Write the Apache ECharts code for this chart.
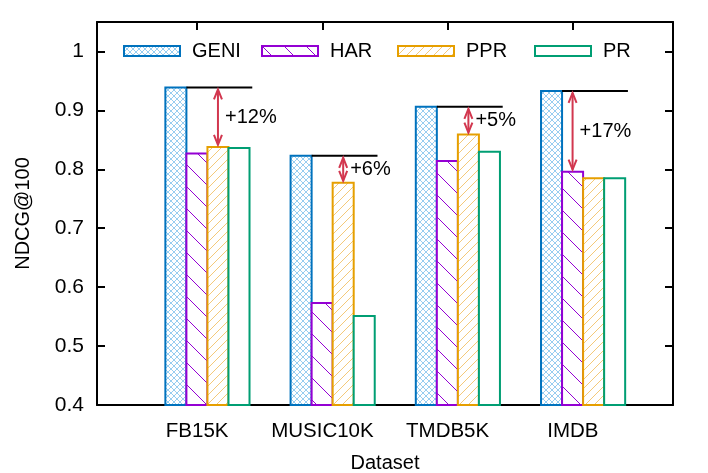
<!DOCTYPE html>
<html>
<head>
<meta charset="utf-8">
<script src="https://cdn.jsdelivr.net/npm/echarts@6/dist/echarts.min.js"></script>
<style>
  html, body { margin: 0; background: #fff; }
  #chart { width: 708px; height: 473px; }
</style>
</head>
<body>
<div id="chart"></div>
<script>
// NDCG@100 per dataset, GENI vs. baselines
const categories = ['FB15K', 'MUSIC10K', 'TMDB5K', 'IMDB'];
const geni = [0.939, 0.823, 0.906, 0.933];
const har  = [0.827, 0.573, 0.814, 0.796];
const ppr  = [0.838, 0.777, 0.859, 0.785];
const pr   = [0.836, 0.551, 0.830, 0.785];
// gain of GENI over the best baseline, arrow points at that baseline
const gainLabels = ['+12%', '+6%', '+5%', '+17%'];
const gainTarget = ['PPR', 'PPR', 'PPR', 'HAR'];
const yTicks = [0.4, 0.5, 0.6, 0.7, 0.8, 0.9, 1];

const FONT = '"Liberation Sans", Arial, Helvetica, sans-serif';
const Y_MIN = 0.4;
const BAR_W = 0.168;
const BAR_LEFT = [-0.254, -0.086, 0.082, 0.25];
const LEGEND_LEFT = [123, 261, 397, 534];
const ARROW = '#d2374f';

function tile(size, draw) {
  const c = document.createElement('canvas');
  c.width = c.height = size;
  const ctx = c.getContext('2d');
  ctx.fillStyle = '#fff';
  ctx.fillRect(0, 0, size, size);
  draw(ctx, size);
  return { image: c, repeat: 'repeat' };
}

// dir 1 = '\', dir -1 = '/'
function diag(ctx, s, dir) {
  for (const k of [-s, 0, s]) {
    ctx.beginPath();
    if (dir > 0) { ctx.moveTo(k, 0); ctx.lineTo(k + s, s); }
    else { ctx.moveTo(k, s); ctx.lineTo(k + s, 0); }
    ctx.stroke();
  }
}

const crossFill = tile(6, (ctx, s) => {
  ctx.strokeStyle = '#7cc0ec'; ctx.lineWidth = 0.8;
  diag(ctx, s, 1); diag(ctx, s, -1);
});
const backFill = tile(22, (ctx, s) => {
  ctx.strokeStyle = '#9400d3'; ctx.lineWidth = 1;
  diag(ctx, s, 1);
});
const fwdFill = tile(9, (ctx, s) => {
  ctx.strokeStyle = '#f4c979'; ctx.lineWidth = 1;
  diag(ctx, s, -1);
});

const bars = [
  { name: 'GENI', values: geni, color: '#0072bd', fill: crossFill },
  { name: 'HAR',  values: har,  color: '#9400d3', fill: backFill },
  { name: 'PPR',  values: ppr,  color: '#e69f00', fill: fwdFill },
  { name: 'PR',   values: pr,   color: '#009e73', fill: '#fff' },
];

const chart = echarts.init(document.getElementById('chart'), null, { renderer: 'canvas' });

const barSeries = bars.map((b, k) => ({
  name: b.name,
  type: 'custom',
  z: 3,
  itemStyle: { color: b.fill, borderColor: b.color, borderWidth: 2 },
  data: categories.map((c, i) => [i, b.values[i]]),
  renderItem: (params, api) => {
    const x0 = api.value(0) + BAR_LEFT[k];
    const p0 = api.coord([x0, api.value(1)]);
    const p1 = api.coord([x0 + BAR_W, Y_MIN]);
    return {
      type: 'rect',
      shape: { x: p0[0], y: p0[1], width: p1[0] - p0[0], height: p1[1] - p0[1] },
      style: { fill: b.fill, stroke: b.color, lineWidth: 2 },
    };
  },
}));

const gainSeries = {
  type: 'custom',
  z: 4,
  silent: true,
  data: categories.map((c, i) => {
    const t = bars.findIndex((b) => b.name === gainTarget[i]);
    return [i, geni[i], bars[t].values[i], t];
  }),
  renderItem: (params, api) => {
    const i = api.value(0), g = api.value(1), v = api.value(2), t = api.value(3);
    const xa = i + BAR_LEFT[t] + BAR_W / 2;
    const top = api.coord([xa, g]);
    const bot = api.coord([xa, v]);
    const l0 = api.coord([i + BAR_LEFT[0] + BAR_W, g]);
    const l1 = api.coord([i + 0.44, g]);
    const x = top[0];
    const head = 10, half = 4;
    return {
      type: 'group',
      children: [
        { type: 'line', shape: { x1: l0[0], y1: l0[1], x2: l1[0], y2: l1[1] },
          style: { stroke: '#000', lineWidth: 2 } },
        { type: 'line', shape: { x1: x, y1: top[1] + 2, x2: x, y2: bot[1] - 2 },
          style: { stroke: ARROW, lineWidth: 2 } },
        { type: 'polyline', shape: { points: [[x - half, top[1] + 2 + head], [x, top[1] + 2], [x + half, top[1] + 2 + head]] },
          style: { stroke: ARROW, lineWidth: 2, fill: null } },
        { type: 'polyline', shape: { points: [[x - half, bot[1] - 2 - head], [x, bot[1] - 2], [x + half, bot[1] - 2 - head]] },
          style: { stroke: ARROW, lineWidth: 2, fill: null } },
        { type: 'text', x: x + 7, y: (top[1] + bot[1]) / 2,
          style: { text: gainLabels[i], fill: '#000', fontSize: 20, fontFamily: FONT, align: 'left', verticalAlign: 'middle' } },
      ],
    };
  },
};

const frame = { show: true, onZero: false, lineStyle: { color: '#000', width: 2 } };
const ticks = (vals) => ({ show: true, inside: true, length: 8, customValues: vals, lineStyle: { color: '#000', width: 2 } });

chart.setOption({
  animation: false,
  backgroundColor: '#fff',
  textStyle: { fontFamily: FONT },
  grid: { left: 97, right: 35, top: 22, bottom: 68, outerBoundsMode: 'none' },
  legend: bars.map((b, k) => ({
    data: [b.name],
    left: LEGEND_LEFT[k],
    top: 41,
    icon: 'rect',
    itemWidth: 56,
    itemHeight: 10,
    padding: 0,
    itemStyle: { borderWidth: 2 },
    textStyle: { fontSize: 20, fontFamily: FONT, color: '#000', padding: [0, 0, 0, 7] },
  })),
  xAxis: [
    {
      type: 'value', min: -0.8, max: 3.8, position: 'bottom',
      name: 'Dataset', nameLocation: 'middle', nameGap: 48,
      nameTextStyle: { fontSize: 20, fontFamily: FONT, color: '#000' },
      axisLine: frame,
      axisTick: ticks([0, 1, 2, 3]),
      axisLabel: { customValues: [0, 1, 2, 3], formatter: (v) => categories[v], margin: 16, fontSize: 20.5, fontFamily: FONT, color: '#000' },
      splitLine: { show: false },
    },
    {
      type: 'value', min: -0.8, max: 3.8, position: 'top',
      axisLine: frame,
      axisTick: ticks([0, 1, 2, 3]),
      axisLabel: { show: false },
      splitLine: { show: false },
    },
  ],
  yAxis: [
    {
      type: 'value', min: Y_MIN, max: 1.05, position: 'left',
      name: 'NDCG@100', nameLocation: 'middle', nameGap: 64,
      nameTextStyle: { fontSize: 20, fontFamily: FONT, color: '#000' },
      axisLine: frame,
      axisTick: ticks(yTicks),
      axisLabel: { customValues: yTicks, formatter: (v) => String(v), margin: 13, fontSize: 21, fontFamily: FONT, color: '#000' },
      splitLine: { show: false },
    },
    {
      type: 'value', min: Y_MIN, max: 1.05, position: 'right',
      axisLine: frame,
      axisTick: ticks(yTicks),
      axisLabel: { show: false },
      splitLine: { show: false },
    },
  ],
  series: [...barSeries, gainSeries],
});
</script>
</body>
</html>
